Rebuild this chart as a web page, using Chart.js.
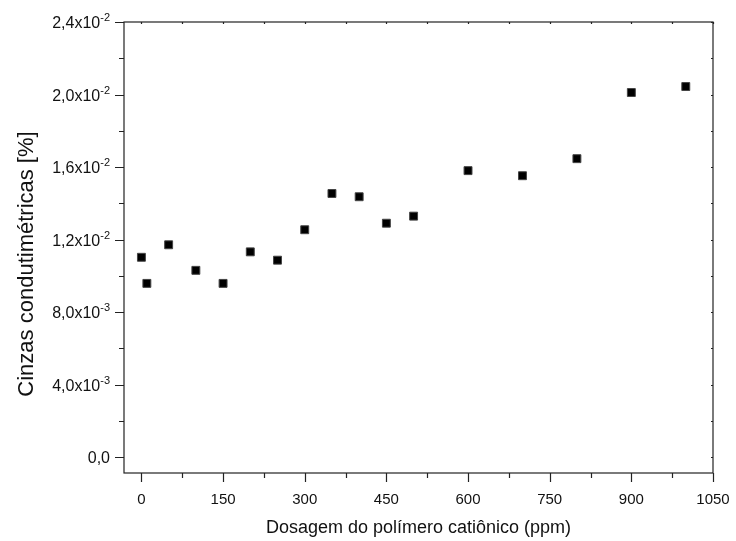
<!DOCTYPE html>
<html>
<head>
<meta charset="utf-8">
<script src="https://cdn.jsdelivr.net/npm/chart.js@4.4.1/dist/chart.umd.min.js"></script>
<style>
  html, body { margin: 0; padding: 0; background: #fff; }
  #wrap { width: 736px; height: 541px; }
</style>
</head>
<body>
<div id="wrap"><canvas id="cinzas"></canvas></div>
<script>
"use strict";

// Dosagem (ppm) e cinzas condutimétricas (%)
const dosagem = [0, 10, 50, 100, 150, 200, 250, 300, 350, 400, 450, 500, 600, 700, 800, 900, 1000];
const cinzas = [0.01102, 0.00958, 0.01171, 0.01030, 0.00958, 0.01132, 0.01086, 0.01254, 0.01454,
                0.01436, 0.01290, 0.01329, 0.01580, 0.01552, 0.01646, 0.02011, 0.02044];

const xTicks = [0, 150, 300, 450, 600, 750, 900, 1050];
const yTicks = [0, 0.004, 0.008, 0.012, 0.016, 0.020, 0.024];
const yTickBase = ["0,0", "4,0x10", "8,0x10", "1,2x10", "1,6x10", "2,0x10", "2,4x10"];
const yTickExp = ["", "-3", "-3", "-2", "-2", "-2", "-2"];
const yTitulo = "Cinzas condutimétricas [%]";

const FONT = "'Liberation Sans', Arial, sans-serif";

/**
 * Ritar moldram, ticks, tick-etiketter (med upphöjd exponent) och y-titel.
 */
const eixos = {
    id: "eixos",
    afterDatasetsDraw(chart) {
        const ctx = chart.ctx;
        const x = chart.scales.x;
        const y = chart.scales.y;
        const {left, right, top, bottom} = chart.chartArea;

        ctx.save();
        ctx.strokeStyle = "#222";
        ctx.lineWidth = 1.2;
        ctx.strokeRect(left, top, right - left, bottom - top);

        ctx.beginPath();
        // eixo x: maiores e menores
        for (let i = 0; i < xTicks.length; i++) {
            const px = Math.round(x.getPixelForValue(xTicks[i])) + 0.5;
            ctx.moveTo(px, bottom); ctx.lineTo(px, bottom + 9);
            ctx.moveTo(px, top); ctx.lineTo(px, top + 2);
            if (i < xTicks.length - 1) {
                const mx = Math.round(x.getPixelForValue(xTicks[i] + 75)) + 0.5;
                ctx.moveTo(mx, bottom); ctx.lineTo(mx, bottom + 5);
                ctx.moveTo(mx, top); ctx.lineTo(mx, top + 2);
            }
        }
        // eixo y
        for (let i = 0; i < yTicks.length; i++) {
            const py = Math.round(y.getPixelForValue(yTicks[i])) + 0.5;
            ctx.moveTo(left, py); ctx.lineTo(left - 9, py);
            ctx.moveTo(right, py); ctx.lineTo(right - 2, py);
            if (i < yTicks.length - 1) {
                const my = Math.round(y.getPixelForValue(yTicks[i] + 0.002)) + 0.5;
                ctx.moveTo(left, my); ctx.lineTo(left - 5, my);
                ctx.moveTo(right, my); ctx.lineTo(right - 2, my);
            }
        }
        ctx.stroke();

        ctx.fillStyle = "#111";
        ctx.font = "15px " + FONT;
        ctx.textAlign = "center";
        ctx.textBaseline = "alphabetic";
        xTicks.forEach(v => {
            ctx.fillText(String(v), x.getPixelForValue(v), bottom + 31);
        });

        yTicks.forEach((v, i) => {
            const py = y.getPixelForValue(v);
            ctx.font = "11px " + FONT;
            const ew = yTickExp[i] ? ctx.measureText(yTickExp[i]).width : 0;
            const ex = left - 14;
            ctx.textAlign = "right";
            if (ew) ctx.fillText(yTickExp[i], ex, py - 1);
            ctx.font = "16px " + FONT;
            ctx.fillText(yTickBase[i], ex - ew, py + 6);
        });

        // titulo do eixo y
        ctx.translate(33, 264);
        ctx.rotate(-Math.PI / 2);
        ctx.font = "22px " + FONT;
        ctx.textAlign = "center";
        ctx.fillText(yTitulo, 0, 0);
        ctx.restore();
    }
};

new Chart(document.getElementById("cinzas"), {
    type: "scatter",
    data: {
        datasets: [{
            label: "Cinzas",
            data: dosagem.map((d, i) => ({x: d, y: cinzas[i]})),
            pointStyle: "rect",
            pointRadius: 5.6,
            backgroundColor: "#000",
            borderColor: "#444",
            borderWidth: 1
        }]
    },
    options: {
        responsive: true,
        maintainAspectRatio: false,
        animation: false,
        layout: { padding: { top: 22, right: 23, left: 0, bottom: 0 } },
        plugins: { legend: { display: false }, tooltip: { enabled: false } },
        scales: {
            x: {
                type: "linear",
                min: -32,
                max: 1050,
                grid: { display: false },
                border: { display: false },
                ticks: { display: false },
                title: {
                    display: true,
                    text: "Dosagem do polímero catiônico (ppm)",
                    color: "#111",
                    font: { family: FONT, size: 18 },
                    padding: { top: 0, bottom: 2 }
                },
                afterFit(scale) { scale.height = 68; }
            },
            y: {
                type: "linear",
                min: -0.00088,
                max: 0.024,
                grid: { display: false },
                border: { display: false },
                ticks: { display: false },
                title: { display: false },
                afterFit(scale) { scale.width = 124; }
            }
        }
    },
    plugins: [eixos]
});
</script>
</body>
</html>
